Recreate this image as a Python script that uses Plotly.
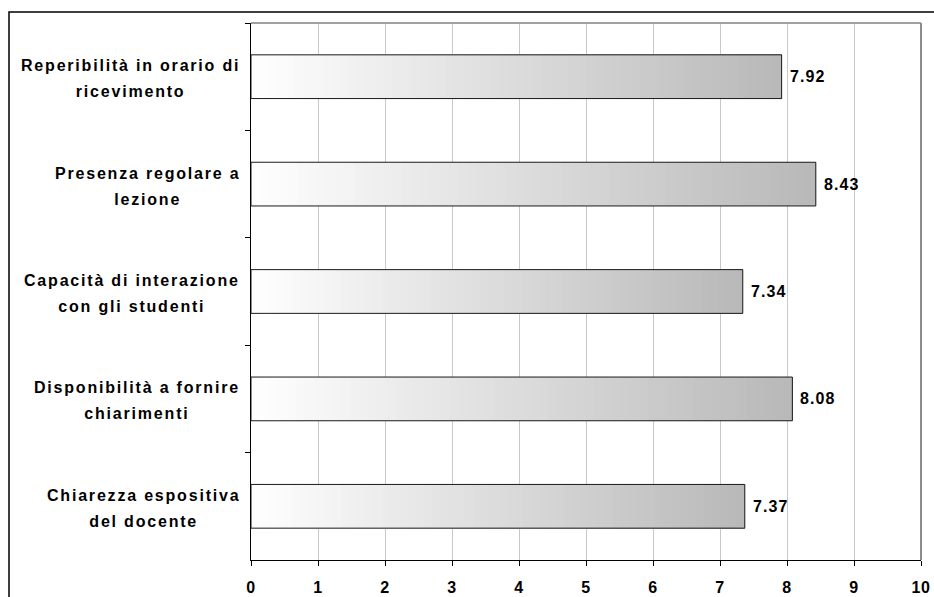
import plotly.graph_objects as go

# Survey items (top to bottom) and their average scores
categories = [
    "Reperibilità in orario di<br>ricevimento",
    "Presenza regolare a<br>lezione",
    "Capacità di interazione<br>con gli studenti",
    "Disponibilità a fornire<br>chiarimenti",
    "Chiarezza espositiva<br>del docente",
]
scores = [7.92, 8.43, 7.34, 8.08, 7.37]
x_ticks = list(range(0, 11))

FONT = "Liberation Sans, Arial, sans-serif"
N_STEPS = 60  # layers used to paint the horizontal white-to-grey gradient
START, END = 255, 184

fig = go.Figure()

# Gradient fill: each layer starts a little further right and runs to the
# bar end, so later (darker) layers cover earlier ones without seams
for k in range(N_STEPS):
    g = round(START + (END - START) * (k + 0.5) / N_STEPS)
    fig.add_trace(go.Bar(
        y=categories,
        x=[v - v * k / N_STEPS for v in scores],
        base=[v * k / N_STEPS for v in scores],
        orientation="h",
        marker=dict(color=f"rgb({g},{g},{g})", line=dict(width=0)),
        hoverinfo="skip",
        showlegend=False,
    ))

# Bar outlines
fig.add_trace(go.Bar(
    y=categories,
    x=scores,
    orientation="h",
    marker=dict(color="rgba(0,0,0,0)", line=dict(color="#1a1a1a", width=1)),
    showlegend=False,
    hovertemplate="%{x:.2f}<extra></extra>",
))

annotations = []
# Value labels at the end of each bar
for cat, v in zip(categories, scores):
    annotations.append(dict(
        x=v, y=cat, xref="x", yref="y",
        text=f"<span style='letter-spacing:1.1px'>{v:.2f}</span>",
        showarrow=False, xanchor="left", yanchor="middle", xshift=6,
        font=dict(family=FONT, size=16, color="black", weight="bold"),
    ))
# Category labels, centred lines right-aligned against the axis
for cat in categories:
    annotations.append(dict(
        x=0, y=cat, xref="paper", yref="y",
        text=f"<span style='font-size:16px;letter-spacing:1.8px'>{cat}</span>",
        showarrow=False, xanchor="right", yanchor="middle", align="center",
        xshift=-9, yshift=-2,
        font=dict(family=FONT, size=20, color="black", weight="bold"),
    ))

fig.update_layout(
    width=934, height=597,
    margin=dict(l=251, r=13, t=23, b=37, autoexpand=False),
    paper_bgcolor="white", plot_bgcolor="white",
    barmode="overlay", bargap=0.593,
    annotations=annotations,
    shapes=[
        # outer frame
        dict(type="rect", xref="paper", yref="paper",
             x0=(9 - 251) / 670, x1=1.2, y0=-0.3, y1=1 + 11 / 537,
             line=dict(color="black", width=1.5), layer="below"),
        # grey plot-area border (top and right)
        dict(type="line", xref="paper", yref="paper", x0=0, x1=1, y0=1, y1=1,
             line=dict(color="#a0a0a0", width=2)),
        dict(type="line", xref="paper", yref="paper", x0=1, x1=1, y0=0, y1=1,
             line=dict(color="#8c8c8c", width=2)),
    ],
    xaxis=dict(
        range=[0, 10], tickvals=x_ticks,
        ticktext=[f"<span style='letter-spacing:0.6px'>{t}</span>" for t in x_ticks],
        showgrid=True, gridcolor="#c8c8c8", gridwidth=1,
        showline=True, linecolor="black", linewidth=1,
        ticks="outside", ticklen=5, tickcolor="black",
        ticklabelstandoff=8,
        tickfont=dict(family=FONT, size=16, color="black", weight="bold"),
        zeroline=False, fixedrange=True, automargin=False,
    ),
    yaxis=dict(
        type="category", autorange="reversed",
        showticklabels=False,
        showline=True, linecolor="black", linewidth=1,
        ticks="outside", ticklen=5, tickcolor="black", tickson="boundaries",
        showgrid=False, zeroline=False, fixedrange=True, automargin=False,
    ),
)

fig.write_html("out.html")
